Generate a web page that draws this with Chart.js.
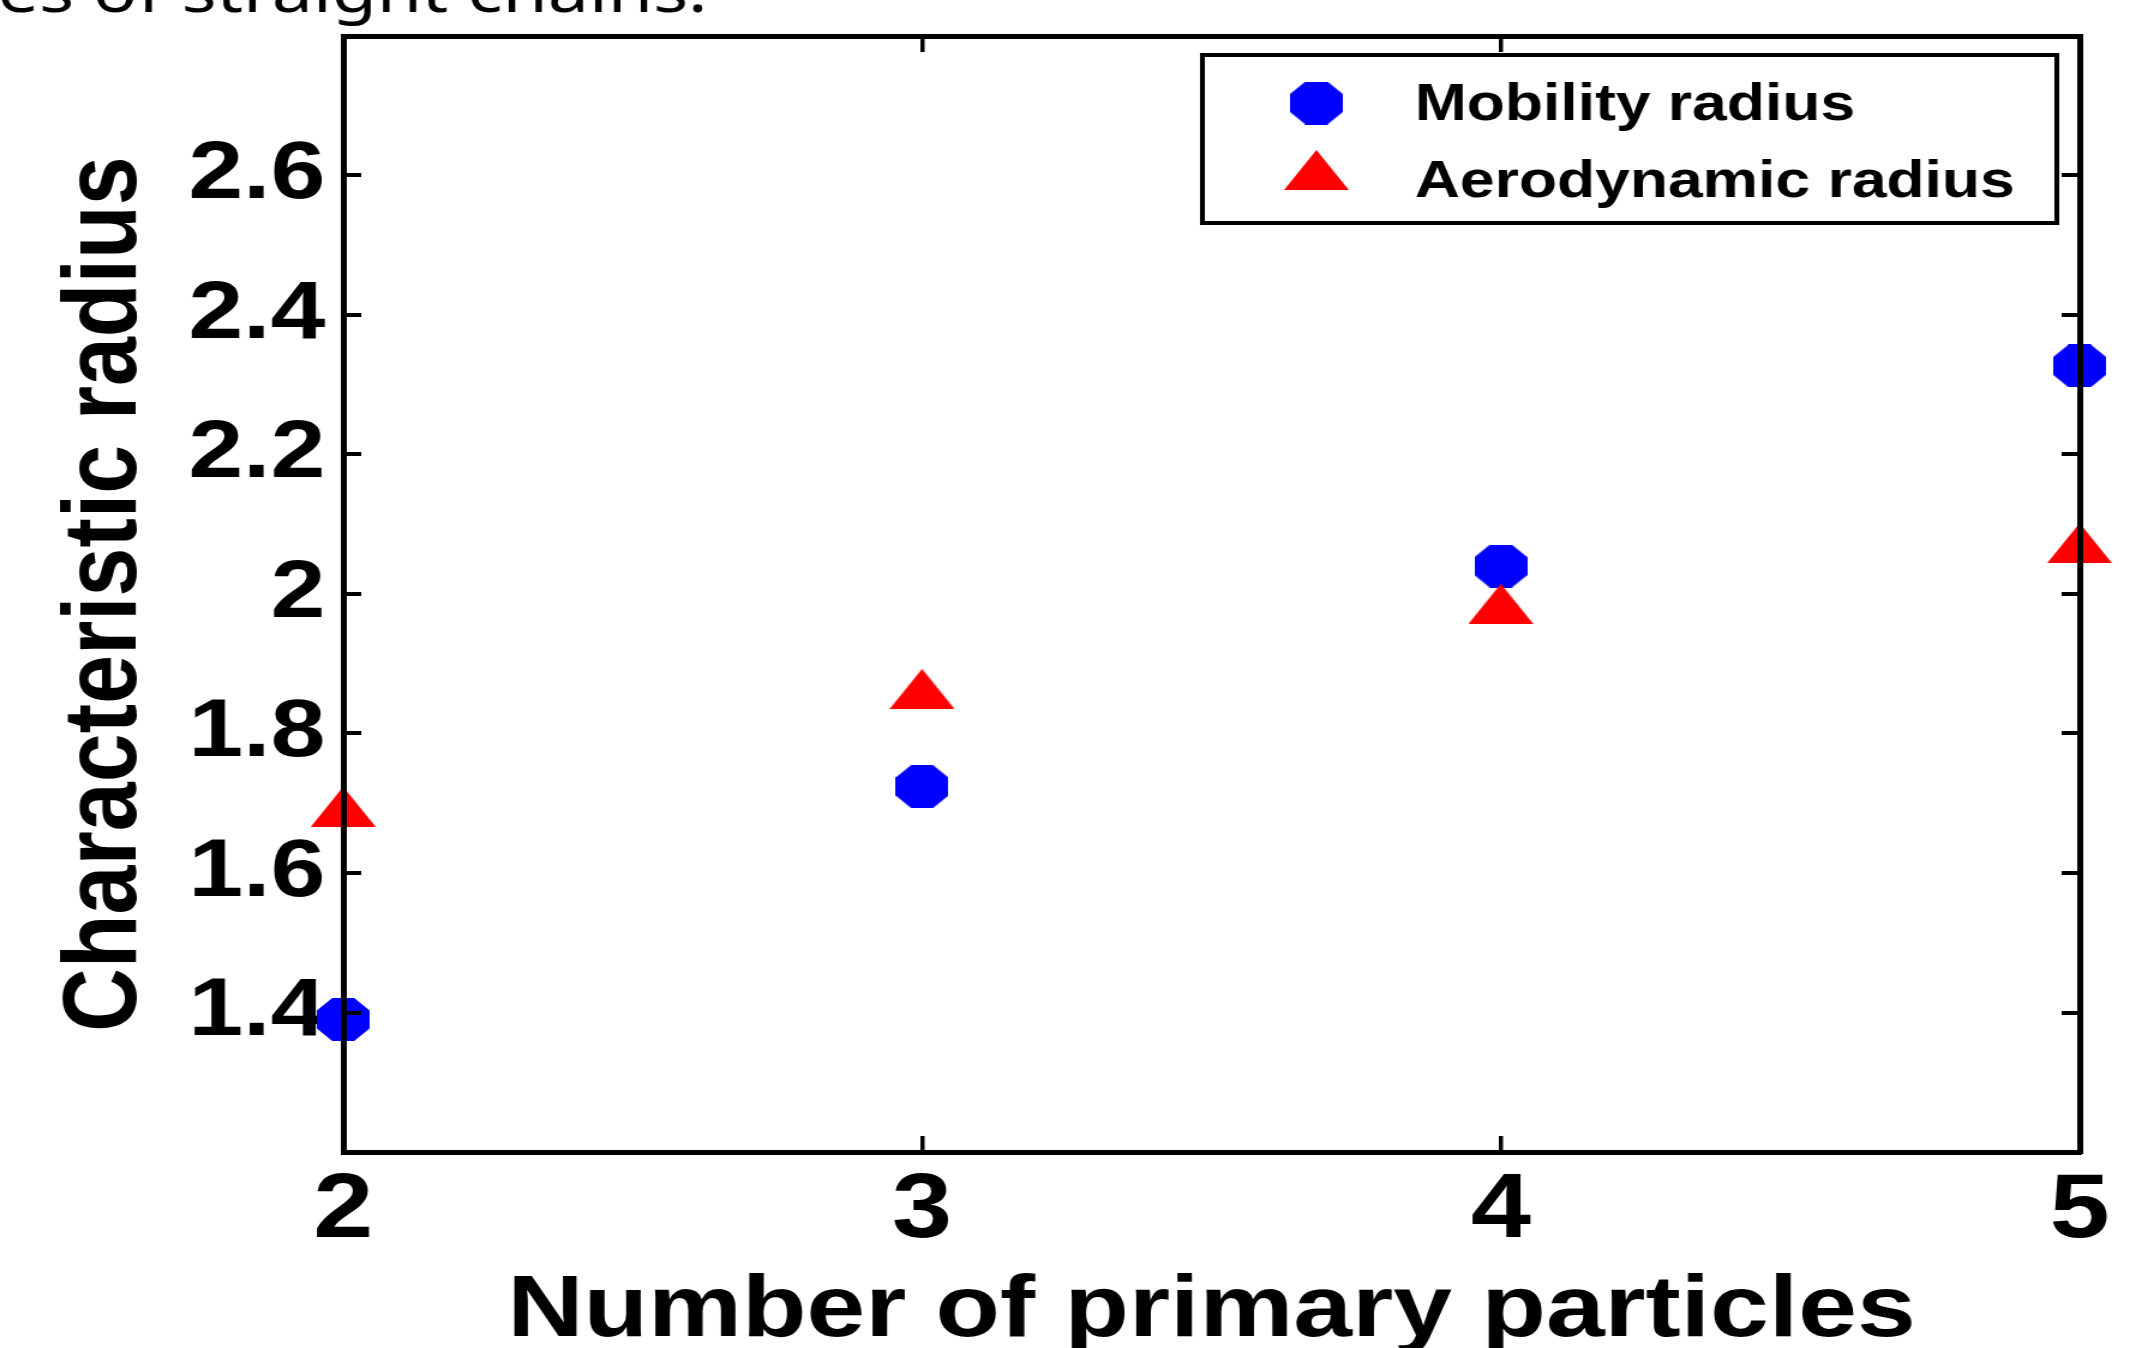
<!DOCTYPE html>
<html>
<head>
<meta charset="utf-8">
<title>Characteristic radius</title>
<script src="https://cdn.jsdelivr.net/npm/chart.js@4.4.1/dist/chart.umd.min.js"></script>
<style>
  html, body { margin: 0; padding: 0; background: #fff; overflow: hidden; }
  #radius-chart { display: block; }
</style>
</head>
<body>
<!-- the original figure is stretched sideways ~1.2x, so draw narrow and let the inline style widen it -->
<canvas id="radius-chart" width="1775" height="1348" style="width:2130px;height:1348px"></canvas>
<script>
/* Values */
let particleCounts = [2, 3, 4, 5]
let mobilityRadius = [1.39, 1.724, 2.04, 2.327]
let aerodynamicRadius = [1.695, 1.864, 1.986, 2.073]
let seriesNames = ['Mobility radius', 'Aerodynamic radius']
let xTicks = [2, 3, 4, 5]
let yTicks = [1.4, 1.6, 1.8, 2.0, 2.2, 2.4, 2.6]
let yTickLabels = ['1.4', '1.6', '1.8', '2', '2.2', '2.4', '2.6']

let blue = 'rgb(0,0,255)'
let red = 'rgb(255,0,0)'
let boldFont = 'Liberation Sans, Arial, Helvetica, sans-serif'

/* marker images, matlab style octagon and a flat triangle */
function makeOctagon(w, h, color) {
    let c = document.createElement('canvas')
    c.width = w
    c.height = h
    let g = c.getContext('2d')
    g.fillStyle = color
    g.beginPath()
    for (let k = 0; k < 8; k++) {
        let a = Math.PI / 8 + k * Math.PI / 4
        let px = w / 2 + Math.cos(a) * w / 2 / Math.cos(Math.PI / 8)
        let py = h / 2 + Math.sin(a) * h / 2 / Math.cos(Math.PI / 8)
        if (k == 0) g.moveTo(px, py)
        else g.lineTo(px, py)
    }
    g.closePath()
    g.fill()
    return c
}

function makeTriangle(w, h, color) {
    let c = document.createElement('canvas')
    c.width = w
    c.height = h
    let g = c.getContext('2d')
    g.fillStyle = color
    g.beginPath()
    g.moveTo(w / 2, 0)
    g.lineTo(w, h)
    g.lineTo(0, h)
    g.closePath()
    g.fill()
    return c
}

let octagon = makeOctagon(44, 43, blue)
let triangle = makeTriangle(54, 40, red)

function toPoints(ys) {
    return particleCounts.map((n, i) => ({ x: n, y: ys[i] }))
}

// inward tick marks: negative tickLength puts them inside the box
function tickGrid(len, width) {
    return { drawOnChartArea: false, drawTicks: true, tickLength: len, lineWidth: width, color: '#000', z: 1 }
}
let axisBorder = { display: true, color: '#000', width: 5, z: 1 }

// fixed axis sizes, and no extra room for half labels at the ends
function fixSize(prop, size) {
    return function(s) {
        s[prop] = size
        s.paddingTop = 0
        s.paddingBottom = 0
        s.paddingLeft = 0
        s.paddingRight = 0
    }
}

// legend drawn by hand, boxed, top right inside the plot
let boxedLegend = {
    id: 'boxedLegend',
    afterDraw(chart) {
        let ctx = chart.ctx
        ctx.save()
        ctx.fillStyle = '#fff'
        ctx.fillRect(1002, 55, 712, 168)
        ctx.strokeStyle = '#000'
        ctx.lineWidth = 4
        ctx.strokeRect(1002, 55, 712, 168)

        let markerY = [103, 170]
        let textY = [120, 197]
        ctx.font = 'bold 52px ' + boldFont
        ctx.fillStyle = '#000'
        ctx.textBaseline = 'alphabetic'
        chart.data.datasets.forEach((ds, i) => {
            let img = ds.pointStyle
            ctx.drawImage(img, 1097 - img.width / 2, markerY[i] - img.height / 2)
            ctx.fillText(ds.label, 1179, textY[i])
        })
        ctx.restore()
    }
}

// bit of slide caption cut off at the top edge
let captionScrap = {
    id: 'captionScrap',
    afterDraw(chart) {
        let ctx = chart.ctx
        ctx.save()
        ctx.font = '61px "Noto Sans", sans-serif'
        ctx.fillStyle = '#000'
        ctx.textBaseline = 'alphabetic'
        ctx.fillText('es of straight chains.', -2, 12)
        ctx.restore()
    }
}

let ctx = document.querySelector('#radius-chart').getContext('2d')

let radiusChart = new Chart(ctx, {
    type: 'scatter',
    data: {
        datasets: [
            {
                label: seriesNames[0],
                data: toPoints(mobilityRadius),
                pointStyle: octagon,
                pointRadius: 24,
                backgroundColor: blue,
                borderColor: blue,
                order: 1,
                clip: false
            },
            {
                label: seriesNames[1],
                data: toPoints(aerodynamicRadius),
                pointStyle: triangle,
                pointRadius: 27,
                backgroundColor: red,
                borderColor: red,
                order: 0,
                clip: false
            }
        ]
    },
    options: {
        responsive: false,
        animation: false,
        devicePixelRatio: 1,
        layout: { padding: { top: 36, right: 42, left: 0, bottom: 0 } },
        plugins: {
            legend: { display: false },
            tooltip: { enabled: false }
        },
        scales: {
            x: {
                type: 'linear',
                position: 'bottom',
                min: 2,
                max: 5,
                afterBuildTicks: s => { s.ticks = xTicks.map(v => ({ value: v })) },
                afterFit: fixSize('height', 196),
                grid: tickGrid(-16, 3.5),
                border: axisBorder,
                ticks: {
                    color: '#000',
                    font: { family: boldFont, weight: 'bold', size: 90 },
                    padding: 22,
                    maxRotation: 0,
                    autoSkip: false
                },
                title: {
                    display: true,
                    text: 'Number of primary particles',
                    color: '#000',
                    font: { family: boldFont, weight: 'bold', size: 88, lineHeight: 1 },
                    padding: { top: 0, bottom: -8 }
                }
            },
            y: {
                type: 'linear',
                position: 'left',
                min: 1.2,
                max: 2.8,
                afterBuildTicks: s => { s.ticks = yTicks.map(v => ({ value: v })) },
                afterFit: fixSize('width', 286),
                grid: tickGrid(-15, 4),
                border: axisBorder,
                ticks: {
                    color: '#000',
                    font: { family: boldFont, weight: 'bold', size: 82 },
                    padding: 30,
                    autoSkip: false,
                    callback: (v, i) => yTickLabels[i]
                },
                title: {
                    display: true,
                    text: 'Characteristic radius',
                    color: '#000',
                    font: { family: boldFont, weight: 'bold', size: 88, lineHeight: 1 },
                    padding: { top: 45, bottom: 0 }
                }
            },
            x2: {
                type: 'linear',
                position: 'top',
                min: 2,
                max: 5,
                afterBuildTicks: s => { s.ticks = xTicks.map(v => ({ value: v })) },
                afterFit: fixSize('height', 0),
                grid: tickGrid(-16, 3.5),
                border: axisBorder,
                ticks: { display: false }
            },
            y2: {
                type: 'linear',
                position: 'right',
                min: 1.2,
                max: 2.8,
                afterBuildTicks: s => { s.ticks = yTicks.map(v => ({ value: v })) },
                afterFit: fixSize('width', 0),
                grid: tickGrid(-15, 4),
                border: axisBorder,
                ticks: { display: false }
            }
        }
    },
    plugins: [boxedLegend, captionScrap]
})
</script>
</body>
</html>
